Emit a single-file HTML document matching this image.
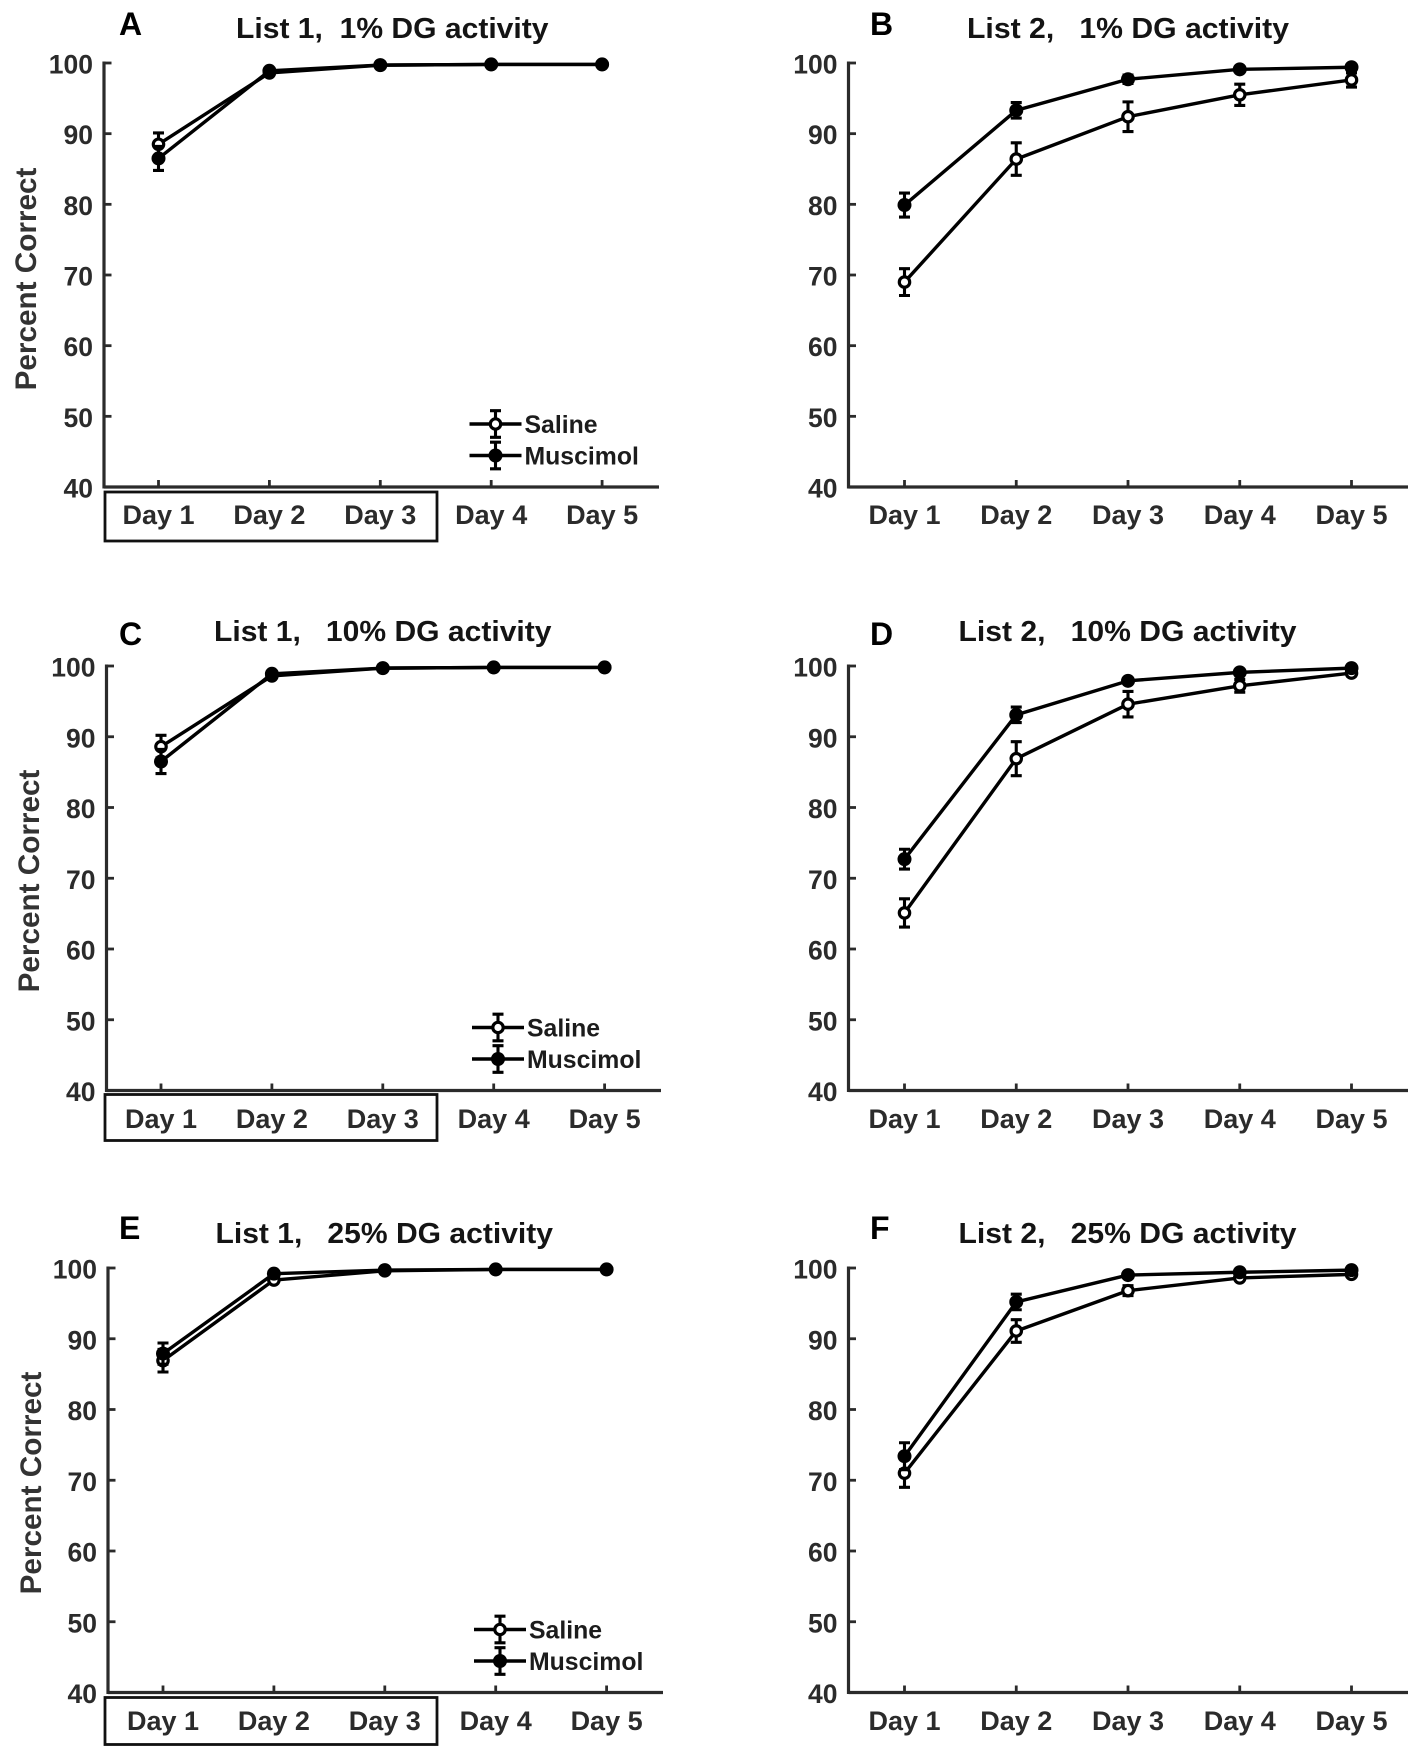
<!DOCTYPE html>
<html lang="en">
<head>
<meta charset="utf-8">
<title>Percent correct by day, List 1 and List 2</title>
<style>
html,body{margin:0;padding:0;background:#fff;}
svg{display:block;font-family:"Liberation Sans",Arial,sans-serif;}
text{white-space:pre;}
</style>
</head>
<body>
<svg id="figure" xmlns="http://www.w3.org/2000/svg" width="1417" height="1752" viewBox="0 0 1417 1752"></svg>
<script>
const categories = ['Day 1', 'Day 2', 'Day 3', 'Day 4', 'Day 5'];
const yTickLabels = [40, 50, 60, 70, 80, 90, 100];

const titleA = 'List 1,  1% DG activity';
const titleB = 'List 2,   1% DG activity';
const titleC = 'List 1,   10% DG activity';
const titleD = 'List 2,   10% DG activity';
const titleE = 'List 1,   25% DG activity';
const titleF = 'List 2,   25% DG activity';

const salineA = [88.5, 98.6, 99.7, 99.8, 99.8];
const muscimolA = [86.5, 98.9, 99.7, 99.8, 99.8];
const salineErrA = [1.6, 0.3, 0.1, 0, 0];
const muscimolErrA = [1.7, 0.3, 0.1, 0, 0];

const salineB = [69, 86.4, 92.4, 95.5, 97.6];
const muscimolB = [79.9, 93.3, 97.7, 99.1, 99.4];
const salineErrB = [1.9, 2.3, 2.1, 1.5, 1.0];
const muscimolErrB = [1.7, 1.1, 0.6, 0.3, 0.2];

const salineC = [88.6, 98.6, 99.7, 99.8, 99.8];
const muscimolC = [86.5, 98.9, 99.7, 99.8, 99.8];
const salineErrC = [1.6, 0.3, 0.1, 0, 0];
const muscimolErrC = [1.7, 0.3, 0.1, 0, 0];

const salineD = [65.1, 86.9, 94.6, 97.2, 99];
const muscimolD = [72.7, 93.1, 97.9, 99.1, 99.7];
const salineErrD = [2.0, 2.4, 1.8, 0.9, 0.4];
const muscimolErrD = [1.4, 1.1, 0.3, 0.2, 0.1];

const salineE = [86.9, 98.3, 99.6, 99.8, 99.8];
const muscimolE = [87.9, 99.2, 99.7, 99.8, 99.8];
const salineErrE = [1.6, 0.3, 0.1, 0, 0];
const muscimolErrE = [1.5, 0.3, 0.1, 0, 0];

const salineF = [71, 91.1, 96.8, 98.6, 99.1];
const muscimolF = [73.4, 95.2, 99, 99.4, 99.7];
const salineErrF = [2.0, 1.6, 0.7, 0.3, 0.2];
const muscimolErrF = [1.9, 1.1, 0.3, 0.2, 0.1];

const panels = [
  {id:'a', letter:'A', title:titleA, s:salineA, m:muscimolA, se:salineErrA, me:muscimolErrA, left:true,  axisX:104, xFirst:158.5, xStep:110.9, axisEnd:659, top:63, bottom:487, tx:236, tw:312.5, tb:38, lx:119, lb:35, dayB:524, yLabelX:36, yLabelC:279, box:[105,492,332,49], legendX:495.5, legendDy:-63, legendTextDx:29},
  {id:'b', letter:'B', title:titleB, s:salineB, m:muscimolB, se:salineErrB, me:muscimolErrB, left:false, axisX:848.5, xFirst:904.5, xStep:111.75, axisEnd:1408, top:63, bottom:487, tx:967, tw:322, tb:38, lx:870, lb:35, dayB:524},
  {id:'c', letter:'C', title:titleC, s:salineC, m:muscimolC, se:salineErrC, me:muscimolErrC, left:true,  axisX:106.5, xFirst:161, xStep:110.9, axisEnd:661, top:666, bottom:1090.5, tx:214, tw:337.5, tb:641, lx:119, lb:645, dayB:1128, yLabelX:39, yLabelC:881, box:[105,1094.5,332,46], legendX:498, legendDy:-63, legendTextDx:29},
  {id:'d', letter:'D', title:titleD, s:salineD, m:muscimolD, se:salineErrD, me:muscimolErrD, left:false, axisX:848.5, xFirst:904.5, xStep:111.75, axisEnd:1408, top:666, bottom:1090.5, tx:958.5, tw:338, tb:641, lx:870, lb:645, dayB:1128},
  {id:'e', letter:'E', title:titleE, s:salineE, m:muscimolE, se:salineErrE, me:muscimolErrE, left:true,  axisX:108, xFirst:163, xStep:110.9, axisEnd:663, top:1268, bottom:1692.5, tx:215.5, tw:337.5, tb:1243, lx:119, lb:1239, dayB:1730, yLabelX:41, yLabelC:1483, box:[105,1697.5,332,47], legendX:500, legendDy:-63, legendTextDx:29},
  {id:'f', letter:'F', title:titleF, s:salineF, m:muscimolF, se:salineErrF, me:muscimolErrF, left:false, axisX:848.5, xFirst:904.5, xStep:111.75, axisEnd:1408, top:1268, bottom:1692.5, tx:958.5, tw:338, tb:1243, lx:870, lb:1239, dayB:1730}
];

const SVGNS = 'http://www.w3.org/2000/svg';
const INK = '#2b2b2b';
const root = document.getElementById('figure');

function make(parent, tag, attrs, text) {
  const node = document.createElementNS(SVGNS, tag);
  for (const k in attrs) node.setAttribute(k, attrs[k]);
  if (text !== undefined) node.textContent = text;
  parent.appendChild(node);
  return node;
}

function drawErrorBar(g, x, yHi, yLo, cap) {
  const bar = make(g, 'path', {
    d: 'M' + x + ' ' + yHi + 'V' + yLo + 'M' + (x - cap) + ' ' + yHi + 'H' + (x + cap) + 'M' + (x - cap) + ' ' + yLo + 'H' + (x + cap),
    fill: 'none', stroke: '#000', 'stroke-width': 3.1
  });
  
  
}

function drawMarker(g, x, y, filled) {
  const dot = make(g, 'circle', filled
    ? {cx: x, cy: y, r: 7, fill: '#000'}
    : {cx: x, cy: y, r: 5.2, fill: '#fff', stroke: '#000', 'stroke-width': 3.2});
  
  
}

function drawSeries(g, p, xAt, yAt, values, errors, filled) {
  const name = filled ? 'muscimol' : 'saline';
  const series = make(g, 'g', {});
  
  
  const d = values.map((v, i) => (i ? 'L' : 'M') + xAt(i) + ' ' + yAt(v)).join('');
  const line = make(series, 'path', {d: d, fill: 'none', stroke: '#000', 'stroke-width': 3.4, 'stroke-linejoin': 'round'});
  
  
  values.forEach((v, i) => {
    if (errors[i] > 0) drawErrorBar(series, xAt(i), yAt(v + errors[i]), yAt(v - errors[i]), 5.5);
    drawMarker(series, xAt(i), yAt(v), filled);
  });
}

function drawLegend(g, p) {
  const legend = make(g, 'g', {});
  
  
  const names = ['Saline', 'Muscimol'];
  names.forEach((label, i) => {
    const y = p.bottom + p.legendDy + i * 31.5;
    const entry = make(legend, 'g', {});
    
    
    const key = make(entry, 'path', {d: 'M' + (p.legendX - 26) + ' ' + y + 'H' + (p.legendX + 26), stroke: '#000', 'stroke-width': 3.4, fill: 'none'});
    
    
    drawErrorBar(entry, p.legendX, y - 13.3, y + 13.3, 5.5);
    drawMarker(entry, p.legendX, y, i === 1);
    const t = make(entry, 'text', {x: p.legendX + p.legendTextDx, y: y + 9, 'font-size': 24.8, 'font-weight': 700, fill: '#1c1c1c'}, label);
    
    
  });
}

panels.forEach(p => {
  const xAt = i => p.xFirst + i * p.xStep;
  const yAt = v => p.bottom - (v - 40) * (p.bottom - p.top) / 60;

  const g = make(root, 'g', {});
  
  

  const letter = make(g, 'text', {x: p.lx, y: p.lb, 'font-size': 32, 'font-weight': 700, fill: '#000'}, p.letter);
  
  

  const title = make(g, 'text', {x: p.tx, y: p.tb, 'font-size': 29, 'font-weight': 700, fill: '#141414', textLength: p.tw, lengthAdjust: 'spacingAndGlyphs'}, p.title);
  
  

  const yAxis = make(g, 'path', {d: 'M' + p.axisX + ' ' + (p.top - 1.5) + 'V' + (p.bottom + 1.5), stroke: INK, 'stroke-width': 3.2, fill: 'none'});
  
  

  const xAxis = make(g, 'path', {d: 'M' + p.axisX + ' ' + p.bottom + 'H' + p.axisEnd, stroke: INK, 'stroke-width': 3.2, fill: 'none'});
  
  

  yTickLabels.forEach(v => {
    const y = yAt(v);
    const tick = make(g, 'path', {d: 'M' + p.axisX + ' ' + y + 'H' + (p.axisX + 7.5), stroke: INK, 'stroke-width': 2.8, fill: 'none'});
    
    
    const label = make(g, 'text', {x: p.axisX - 11, y: y + 10.5, 'text-anchor': 'end', 'font-size': 26.5, 'font-weight': 700, fill: INK}, String(v));
    
    
  });

  categories.forEach((c, i) => {
    const x = xAt(i);
    const tick = make(g, 'path', {d: 'M' + x + ' ' + p.bottom + 'V' + (p.bottom - 7), stroke: INK, 'stroke-width': 2.8, fill: 'none'});
    
    
    const label = make(g, 'text', {x: x, y: p.dayB, 'text-anchor': 'middle', 'font-size': 27, 'font-weight': 700, fill: INK}, c);
    
    
  });

  if (p.left) {
    const yTitle = make(g, 'text', {x: p.yLabelX, y: p.yLabelC, 'text-anchor': 'middle', 'font-size': 29.7, 'font-weight': 700, fill: '#333', transform: 'rotate(-90 ' + p.yLabelX + ' ' + p.yLabelC + ')'}, 'Percent Correct');
    
    

    const box = make(g, 'rect', {x: p.box[0], y: p.box[1], width: p.box[2], height: p.box[3], fill: 'none', stroke: '#111', 'stroke-width': 2.8});
    
    

    drawLegend(g, p);
  }

  drawSeries(g, p, xAt, yAt, p.s, p.se, false);
  drawSeries(g, p, xAt, yAt, p.m, p.me, true);
});
</script>
</body>
</html>
